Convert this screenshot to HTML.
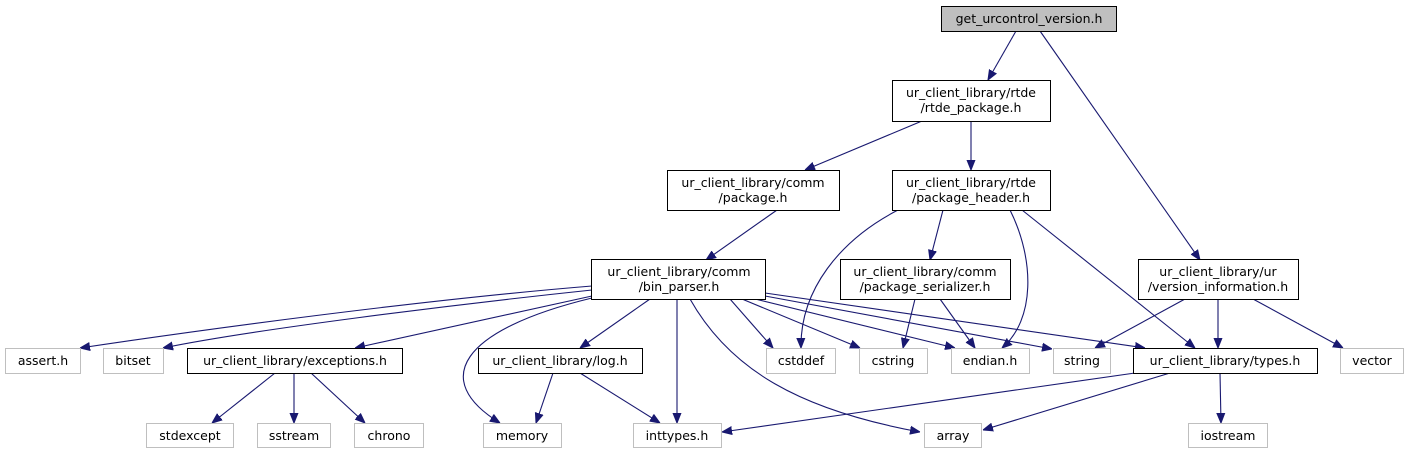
<!DOCTYPE html>
<html><head><meta charset="utf-8"><style>
html,body{margin:0;padding:0;background:#fff;}
svg{display:block}
text{font-family:"DejaVu Sans","Liberation Sans",sans-serif;font-size:12.5px;fill:#000;text-anchor:middle}
.b{fill:#fff;stroke:#000;stroke-width:1}
.g{fill:#fff;stroke:#bfbfbf;stroke-width:1}
.e{fill:none;stroke:#191970;stroke-width:1.1}
</style></head><body>
<svg width="1410" height="455" viewBox="0 0 1410 455" xmlns="http://www.w3.org/2000/svg">
<defs><marker id="a" viewBox="0 0 10 10" refX="10" refY="5" markerWidth="10" markerHeight="10" markerUnits="userSpaceOnUse" orient="auto"><path d="M0,1 L10,5 L0,9 Z" fill="#191970" stroke="#191970"/></marker></defs>
<g class="e" marker-end="url(#a)">
<path d="M1016,31 L988,80"/>
<path d="M1040,31 L1200,260"/>
<path d="M922,121 L805,170"/>
<path d="M971,121 L971,170"/>
<path d="M777,210 L706,260"/>
<path d="M898,210 C840,240 800,290 801,348"/>
<path d="M943,210 L930,260"/>
<path d="M1010,210 C1035,260 1035,320 1002,348"/>
<path d="M1022,210 L1195,348"/>
<path d="M915,299 L903,348"/>
<path d="M940,299 L975,348"/>
<path d="M1185,299 L1095,348"/>
<path d="M1218,299 L1218,348"/>
<path d="M1253,299 L1343,348"/>
<path d="M592,286 C420,300 200,330 80,348"/>
<path d="M592,290 C450,305 250,330 163,348"/>
<path d="M592,296 L355,348"/>
<path d="M592,298 C460,330 430,380 500,423"/>
<path d="M650,299 L580,348"/>
<path d="M677,299 L677,423"/>
<path d="M690,299 C730,370 800,410 920,432"/>
<path d="M730,299 L773,348"/>
<path d="M742,299 L860,348"/>
<path d="M755,299 L955,348"/>
<path d="M765,296 L1052,349"/>
<path d="M765,293 L1145,348"/>
<path d="M275,373 L212,423"/>
<path d="M294,373 L294,423"/>
<path d="M311,373 L365,423"/>
<path d="M553,373 L536,423"/>
<path d="M580,373 L660,423"/>
<path d="M1135,373 L722,432"/>
<path d="M1170,373 L983,430"/>
<path d="M1220,373 L1221,423"/>
</g>
<rect x="941.5" y="6.5" width="175" height="25" fill="#bfbfbf" stroke="#000"/><text x="1029" y="23">get_urcontrol_version.h</text>
<rect class="b" x="892.5" y="80.5" width="158" height="41"/><text x="971" y="97">ur_client_library/rtde</text><text x="971" y="112">/rtde_package.h</text>
<rect class="b" x="667.5" y="170.5" width="172" height="40"/><text x="753" y="187">ur_client_library/comm</text><text x="753" y="202">/package.h</text>
<rect class="b" x="892.5" y="170.5" width="158" height="40"/><text x="971" y="187">ur_client_library/rtde</text><text x="971" y="202">/package_header.h</text>
<rect class="b" x="591.5" y="259.5" width="174" height="40"/><text x="679" y="276">ur_client_library/comm</text><text x="679" y="291">/bin_parser.h</text>
<rect class="b" x="840.5" y="259.5" width="170" height="40"/><text x="925" y="276">ur_client_library/comm</text><text x="925" y="291">/package_serializer.h</text>
<rect class="b" x="1138.5" y="259.5" width="160" height="40"/><text x="1218" y="276">ur_client_library/ur</text><text x="1218" y="291">/version_information.h</text>
<rect class="g" x="5.5" y="348.5" width="75" height="25"/><text x="43" y="365">assert.h</text>
<rect class="g" x="103.5" y="348.5" width="60" height="25"/><text x="133" y="365">bitset</text>
<rect class="b" x="187.5" y="348.5" width="215" height="25"/><text x="295" y="365">ur_client_library/exceptions.h</text>
<rect class="b" x="478.5" y="348.5" width="164" height="25"/><text x="560" y="365">ur_client_library/log.h</text>
<rect class="g" x="766.5" y="348.5" width="69" height="25"/><text x="801" y="365">cstddef</text>
<rect class="g" x="859.5" y="348.5" width="68" height="25"/><text x="893" y="365">cstring</text>
<rect class="g" x="951.5" y="348.5" width="78" height="25"/><text x="990" y="365">endian.h</text>
<rect class="g" x="1053.5" y="348.5" width="57" height="25"/><text x="1082" y="365">string</text>
<rect class="b" x="1133.5" y="348.5" width="184" height="25"/><text x="1225" y="365">ur_client_library/types.h</text>
<rect class="g" x="1340.5" y="348.5" width="63" height="25"/><text x="1372" y="365">vector</text>
<rect class="g" x="146.5" y="423.5" width="87" height="24"/><text x="190" y="440">stdexcept</text>
<rect class="g" x="257.5" y="423.5" width="73" height="24"/><text x="294" y="440">sstream</text>
<rect class="g" x="354.5" y="423.5" width="69" height="24"/><text x="389" y="440">chrono</text>
<rect class="g" x="483.5" y="423.5" width="78" height="24"/><text x="522" y="440">memory</text>
<rect class="g" x="633.5" y="423.5" width="88" height="24"/><text x="677" y="440">inttypes.h</text>
<rect class="g" x="924.5" y="423.5" width="57" height="24"/><text x="953" y="440">array</text>
<rect class="g" x="1188.5" y="423.5" width="79" height="24"/><text x="1228" y="440">iostream</text>
</svg>
</body></html>
